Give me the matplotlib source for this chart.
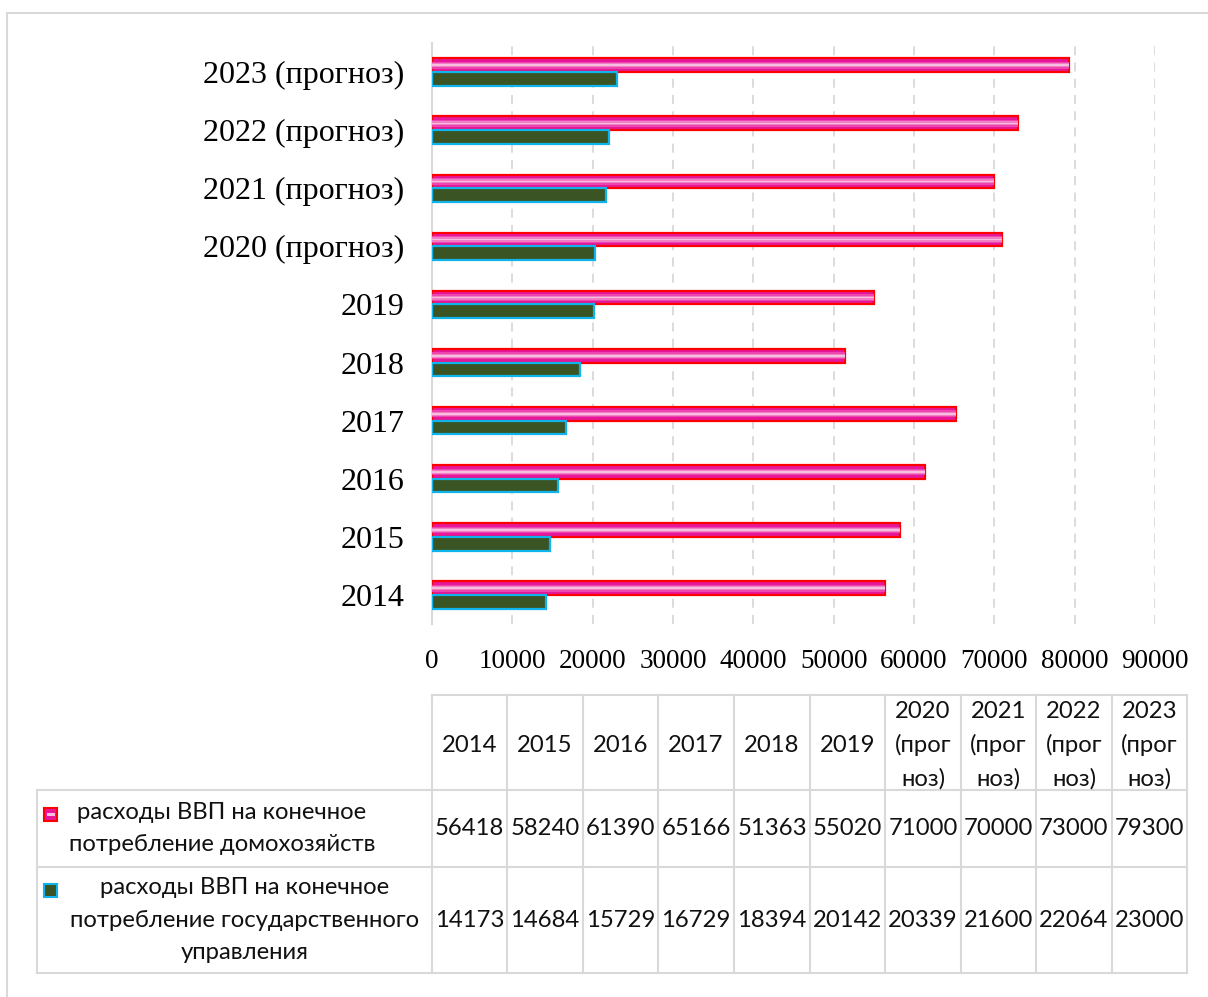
import matplotlib
matplotlib.use("Agg")
import matplotlib.pyplot as plt
import numpy as np
from matplotlib.lines import Line2D
from matplotlib.patches import Rectangle

plt.rcParams["font.family"] = ["Liberation Serif", "DejaVu Serif"]

categories = ["2014", "2015", "2016", "2017", "2018", "2019",
              "2020 (прогноз)", "2021 (прогноз)", "2022 (прогноз)", "2023 (прогноз)"]
table_headers = ["2014", "2015", "2016", "2017", "2018", "2019",
                 "2020\n(прог\nноз)", "2021\n(прог\nноз)", "2022\n(прог\nноз)", "2023\n(прог\nноз)"]
households = [56418, 58240, 61390, 65166, 51363, 55020, 71000, 70000, 73000, 79300]
government = [14173, 14684, 15729, 16729, 18394, 20142, 20339, 21600, 22064, 23000]
series_names = ["расходы ВВП на конечное\nпотребление домохозяйств",
                "расходы ВВП на конечное\nпотребление государственного\nуправления"]
xticks = [0, 10000, 20000, 30000, 40000, 50000, 60000, 70000, 80000, 90000]

W, H = 1208, 997
fig = plt.figure(figsize=(W / 100, H / 100), dpi=100)

def fx(px):
    return px / W

def fy(py):
    return 1 - py / H

# outer border
fig.add_artist(Line2D([fx(7), fx(1208)], [fy(13), fy(13)], color="#d9d9d9", lw=1.5))
fig.add_artist(Line2D([fx(7), fx(7)], [fy(13), fy(997)], color="#d9d9d9", lw=1.5))

ax_left, ax_right, ax_top, ax_bottom = 432, 1155, 43, 624
ax = fig.add_axes([fx(ax_left), fy(ax_bottom), fx(ax_right - ax_left), (ax_bottom - ax_top) / H])

y = np.arange(len(categories))
h = 0.235
pink_y = y + h / 2
green_y = y - h / 2

ax.barh(pink_y, households, height=h, color="#E6179B", edgecolor="#FF0000", linewidth=1.6, zorder=3)
ax.barh(pink_y, households, height=h * 0.5, color="#EC45AE", linewidth=0, zorder=4)
ax.barh(pink_y, households, height=h * 0.3, color="#F17FC5", linewidth=0, zorder=5)
ax.barh(pink_y, households, height=h * 0.12, color="#F7BEDF", linewidth=0, zorder=6)
ax.barh(green_y, government, height=h, color="#3A5424", edgecolor="#10B4EC", linewidth=1.6, zorder=3)

ax.set_xlim(0, 90000)
ax.set_ylim(-0.5, len(categories) - 0.5)
ax.set_xticks(xticks)
ax.set_xticklabels([str(v) for v in xticks])
ax.set_yticks(y)
ax.set_yticklabels(categories)
for lab in ax.get_xticklabels():
    lab.set_fontfamily("Liberation Serif")
    lab.set_fontsize(19.5)
for lab in ax.get_yticklabels():
    lab.set_fontfamily("Liberation Serif")
    lab.set_fontsize(23)
ax.tick_params(axis="both", length=0)
ax.tick_params(axis="x", pad=18)
ax.tick_params(axis="y", pad=20)
for s in ["top", "right", "bottom"]:
    ax.spines[s].set_visible(False)
ax.spines["left"].set_color("#d9d9d9")
ax.spines["left"].set_linewidth(1.5)
for v in xticks[1:]:
    ax.axvline(v, color="#d9d9d9", lw=1.3, ls=(0, (5, 4)), zorder=1)

# data table
col_edges = [37, 432, 507, 583, 658, 734, 810, 885, 961, 1036, 1112, 1187]
row_edges = [695, 790, 867, 973]
tcol = "#d9d9d9"
fig.add_artist(Line2D([fx(432), fx(1187)], [fy(695), fy(695)], color=tcol, lw=1.5))
for ry in row_edges[1:]:
    fig.add_artist(Line2D([fx(37), fx(1187)], [fy(ry), fy(ry)], color=tcol, lw=1.5))
fig.add_artist(Line2D([fx(37), fx(37)], [fy(790), fy(973)], color=tcol, lw=1.5))
for cx in col_edges[1:]:
    fig.add_artist(Line2D([fx(cx), fx(cx)], [fy(695), fy(973)], color=tcol, lw=1.5))

tfont = dict(family="Lato", fontsize=17.2, color="#111111", linespacing=1.68)
for i, hdr in enumerate(table_headers):
    cx = (col_edges[i + 1] + col_edges[i + 2]) / 2
    cy = (row_edges[0] + row_edges[1]) / 2 + 3
    fig.text(fx(cx), fy(cy), hdr, ha="center", va="center", **tfont)
    fig.text(fx(cx), fy((row_edges[1] + row_edges[2]) / 2), str(households[i]),
             ha="center", va="center", **tfont)
    fig.text(fx(cx), fy((row_edges[2] + row_edges[3]) / 2), str(government[i]),
             ha="center", va="center", **tfont)

fig.text(fx(222), fy((row_edges[1] + row_edges[2]) / 2), series_names[0],
         ha="center", va="center", **tfont)
fig.text(fx(245), fy((row_edges[2] + row_edges[3]) / 2), series_names[1],
         ha="center", va="center", **tfont)
fig.add_artist(Rectangle((fx(44), fy(821)), fx(13), 13 / H, facecolor="#E6179B",
                         edgecolor="#FF0000", lw=1.5))
fig.add_artist(Rectangle((fx(46.5), fy(816)), fx(8), 3 / H, facecolor="#F7BEDF", lw=0))
fig.add_artist(Rectangle((fx(44), fy(897)), fx(13), 13 / H, facecolor="#3A5424",
                         edgecolor="#10B4EC", lw=1.5))

fig.savefig("out.png", dpi=100)
